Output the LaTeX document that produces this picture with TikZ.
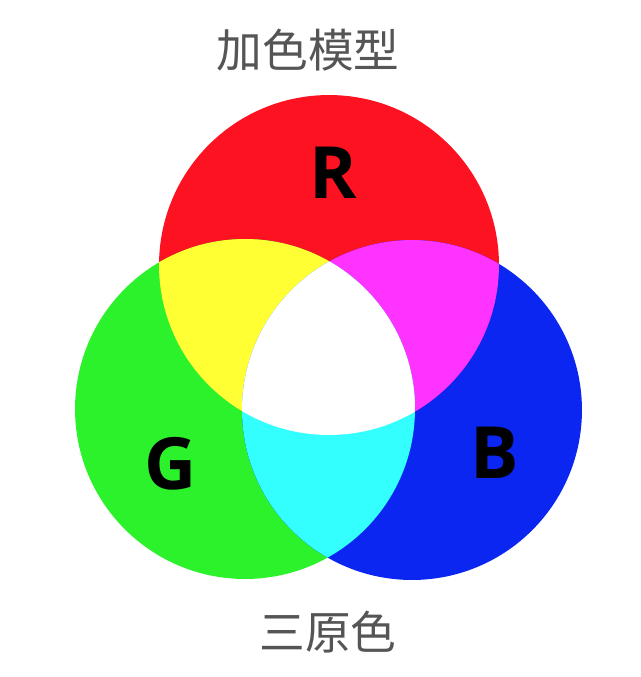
\documentclass[tikz,border=0pt]{standalone}
\usepackage{fontspec}
\newfontfamily\cjk{Noto Sans CJK SC}
\newfontfamily\lettersf{Open Sans}
\usetikzlibrary{positioning}
\definecolor{rgbRed}{HTML}{FC1220}
\definecolor{rgbGreen}{HTML}{2CF22C}
\definecolor{rgbBlue}{HTML}{0A26F0}
\definecolor{rgbYellow}{HTML}{FFFF33}
\definecolor{rgbMagenta}{HTML}{FF33FF}
\definecolor{rgbCyan}{HTML}{33FFFF}
\definecolor{capGray}{HTML}{555555}
\begin{document}
\begin{tikzpicture}[x=0.02cm, y=-0.02cm,
  caption/.style={font=\cjk\fontsize{26}{30}\selectfont, text=capGray, inner sep=0pt},
  letter/.style={font=\lettersf\bfseries\fontsize{41}{45}\selectfont, inner sep=0pt}]
\useasboundingbox (0,0) rectangle (640,677);
% circle centres
\coordinate (cR) at (329,265);
\coordinate (cG) at (245,409);
\coordinate (cB) at (412,410);
% primaries
\fill[rgbRed]   (cR) circle [radius=3.4cm];
\fill[rgbGreen] (cG) circle [radius=3.4cm];
\fill[rgbBlue]  (cB) circle [radius=3.4cm];
% pairwise mixes
\begin{scope}
  \clip (cR) circle [radius=3.4cm];
  \fill[rgbYellow]  (cG) circle [radius=3.4cm];
  \fill[rgbMagenta] (cB) circle [radius=3.4cm];
\end{scope}
\begin{scope}
  \clip (cG) circle [radius=3.4cm];
  \fill[rgbCyan] (cB) circle [radius=3.4cm];
\end{scope}
% all three
\begin{scope}
  \clip (cR) circle [radius=3.4cm];
  \clip (cG) circle [radius=3.4cm];
  \fill[white] (cB) circle [radius=3.4cm];
\end{scope}
% labels
\node[letter] (R) at (333,173) {R};
\node[letter] (G) at (171,464) {G};
\node[letter] (B) at (495,453) {B};
\node[caption] (title) at (308,50) {加色模型};
\node[caption] (sub)   at (328,632) {三原色};
\end{tikzpicture}
\end{document}
